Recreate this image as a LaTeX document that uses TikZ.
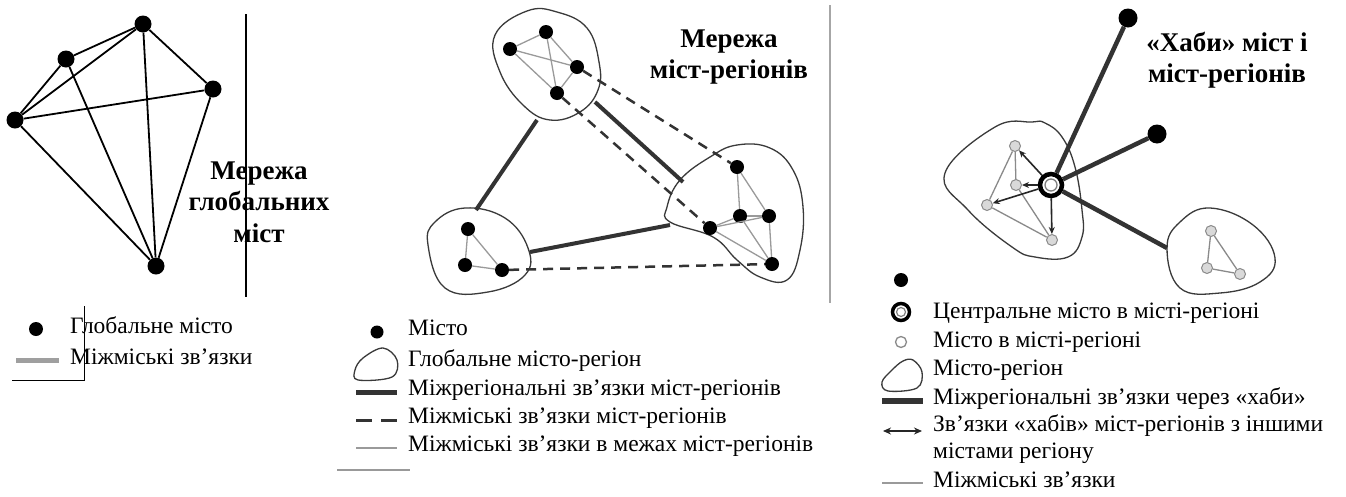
\documentclass[tikz,border=0pt]{standalone}
\usepackage{fontspec}
\setmainfont{Liberation Serif}
\usetikzlibrary{arrows.meta}
\definecolor{cthick}{HTML}{333333}
\definecolor{cthin}{HTML}{9A9A9A}
\definecolor{cblob}{HTML}{3A3A3A}
\definecolor{cgnode}{HTML}{D9D9D9}
\definecolor{cgline}{HTML}{8A8A8A}
\begin{document}
\begin{tikzpicture}[x=1pt,y=-1pt,
 gdot/.style={circle,fill=black,inner sep=0pt,minimum size=17pt},
 mdot/.style={circle,fill=black,inner sep=0pt,minimum size=14pt},
 bigdot/.style={circle,fill=black,inner sep=0pt,minimum size=19pt},
 rnode/.style={circle,draw=cgline,fill=cgnode,line width=1pt,inner sep=0pt,minimum size=11pt},
 glink/.style={line width=1.8pt,black},
 thinlink/.style={line width=1.3pt,cthin},
 thicklink/.style={line width=4pt,cthick},
 dashlink/.style={line width=2.5pt,cthick,dash pattern=on 10pt off 7pt},
 hublink/.style={line width=1.6pt,black!85,-{Stealth[length=7pt,width=6pt]}},
 blobline/.style={line width=1.3pt,cblob},
 divider/.style={line width=1.2pt,black},
 title/.style={font=\fontsize{27}{31.5}\selectfont\bfseries,align=center,inner sep=0pt},
 leg/.style={font=\fontsize{23.5}{28}\selectfont,anchor=west,inner sep=0pt,text height=16pt,text depth=5pt},
 ]
\useasboundingbox (0,0) rectangle (1346,496);
\fill[white] (0,0) rectangle (1346,496);

% ---------- Left panel ----------
\node[gdot] (gA) at (143,24) {};
\node[gdot] (gB) at (66,59) {};
\node[gdot] (gC) at (213,89) {};
\node[gdot] (gD) at (15,120) {};
\node[gdot] (gE) at (156,266) {};
\foreach \a/\b in {gA/gB,gA/gC,gA/gD,gA/gE,gB/gD,gB/gE,gC/gD,gC/gE,gD/gE}
  \draw[glink] (\a) -- (\b);
\node[title] (t1) at (259,202) {Мережа\\глобальних\\міст};
\coordinate (v1t) at (246,14); \coordinate (v1b) at (246,297);
\draw[divider] (v1t) -- (v1b);

% left legend
\node[gdot,minimum size=14pt] (lg1) at (36,329) {};
\coordinate (lg2a) at (16,360); \coordinate (lg2b) at (59,360);
\draw[line width=5pt,gray!75] (lg2a) -- (lg2b);
\node[leg] (lt1) at (70,328) {Глобальне місто};
\node[leg] (lt2) at (70,359) {Міжміські зв’язки};
\coordinate (bx1) at (84,306); \coordinate (bx2) at (84,380); \coordinate (bx3) at (12,380);
\draw[line width=1pt,black] (bx1) -- (bx2) -- (bx3);

% ---------- Middle panel ----------
\draw[blobline] plot[smooth cycle,tension=0.7] coordinates
 {(527,11) (495,35) (500,72) (523,105) (550,120) (580,112) (598,90) (599,62) (587,28) (557,12)};
\draw[blobline] plot[smooth cycle,tension=0.7] coordinates
 {(737,145) (710,157) (680,180) (667,207) (670,222) (713,237) (737,260) (760,277) (787,280) (800,250) (803,207) (793,170) (770,148)};
\draw[blobline] plot[smooth cycle,tension=0.7] coordinates
 {(465,208) (505,218) (528,248) (525,275) (488,292) (445,288) (428,245) (435,222)};

\node[mdot] (mA) at (510,49) {};
\node[mdot] (mB) at (546,32) {};
\node[mdot] (mC) at (577,67) {};
\node[mdot] (mD) at (557,93) {};
\node[mdot] (mE) at (737,167) {};
\node[mdot] (mF) at (740,216) {};
\node[mdot] (mG) at (769,216) {};
\node[mdot] (mH) at (710,228) {};
\node[mdot] (mI) at (772,264) {};
\node[mdot] (mJ) at (468,229) {};
\node[mdot] (mK) at (465,265) {};
\node[mdot] (mL) at (502,270) {};

\foreach \a/\b in {mA/mB,mA/mC,mA/mD,mB/mC,mB/mD,mC/mD,
                   mE/mF,mE/mG,mF/mG,mH/mF,mH/mG,mH/mI,mF/mI,mG/mI,
                   mJ/mK,mJ/mL,mK/mL}
  \draw[thinlink] (\a) -- (\b);

\coordinate (top1) at (537,120); \coordinate (lft1) at (476,210);
\coordinate (top2) at (595,102); \coordinate (rgt1) at (683,182);
\coordinate (lft2) at (530,252); \coordinate (rgt2) at (670,225);
\draw[thicklink] (top1) -- (lft1);
\draw[thicklink] (top2) -- (rgt1);
\draw[thicklink] (lft2) -- (rgt2);

\draw[dashlink] (mC) -- (mE);
\draw[dashlink] (mD) -- (mH);
\draw[dashlink] (mL) -- (mI);

\node[title] (t2) at (729,57) {Мережа\\міст-регіонів};
\coordinate (v2t) at (830,5); \coordinate (v2b) at (830,303);
\draw[divider,gray!70] (v2t) -- (v2b);

% middle legend
\node[mdot,minimum size=13pt] (ml1) at (377,332) {};
\draw[blobline] plot[smooth cycle,tension=0.6] coordinates
 {(383,348) (397,360) (392,377) (358,380) (355,370) (363,358)};
\coordinate (ml3a) at (356,392); \coordinate (ml3b) at (397,392);
\draw[line width=5pt,cthick] (ml3a) -- (ml3b);
\coordinate (ml4a) at (356,420); \coordinate (ml4b) at (372,420);
\coordinate (ml4c) at (381,420); \coordinate (ml4d) at (397,420);
\draw[line width=3pt,cthick] (ml4a) -- (ml4b);
\draw[line width=3pt,cthick] (ml4c) -- (ml4d);
\coordinate (ml5a) at (356,448); \coordinate (ml5b) at (397,448);
\draw[line width=1.5pt,cthin] (ml5a) -- (ml5b);
\node[leg] (mt1) at (408,330) {Місто};
\node[leg] (mt2) at (408,361) {Глобальне місто-регіон};
\node[leg] (mt3) at (408,390) {Міжрегіональні зв’язки міст-регіонів};
\node[leg] (mt4) at (408,418) {Міжміські зв’язки міст-регіонів};
\node[leg] (mt5) at (408,446) {Міжміські зв’язки в межах міст-регіонів};
\coordinate (mb1) at (337,470); \coordinate (mb2) at (410,470);
\draw[line width=1.2pt,gray!80] (mb1) -- (mb2);

% ---------- Right panel ----------
\draw[blobline] plot[smooth cycle,tension=0.7] coordinates
 {(1032,122) (995,127) (945,173) (968,210) (1012,247) (1035,257) (1068,257) (1082,237) (1082,210) (1075,167) (1062,137) (1045,123)};
\draw[blobline] plot[smooth cycle,tension=0.7] coordinates
 {(1210,208) (1253,225) (1275,258) (1260,282) (1220,293) (1180,288) (1167,248) (1180,222)};

\node[bigdot] (rA) at (1128,18) {};
\node[bigdot] (rB) at (1157,134) {};
\node[rnode] (rC) at (1015,146) {};
\node[rnode] (rD) at (1016,185) {};
\node[rnode] (rE) at (987,205) {};
\node[rnode] (rF) at (1052,240) {};
\node[rnode] (rH) at (1211,231) {};
\node[rnode] (rI) at (1207,268) {};
\node[rnode] (rJ) at (1240,274) {};
\foreach \a/\b in {rC/rE,rC/rD,rE/rF,rD/rF,rH/rI,rH/rJ,rI/rJ}
  \draw[thinlink,cgline] (\a) -- (\b);

\node[circle,draw=black,line width=4.5pt,fill=white,inner sep=0pt,minimum size=22pt] (hub) at (1051,185) {};
\node[circle,draw=gray,line width=1.3pt,fill=white,inner sep=0pt,minimum size=12pt] (hubin) at (hub) {};
\coordinate (rG) at (1167,248);
\draw[thicklink,line width=4.5pt] (hub) -- (rA);
\draw[thicklink,line width=4.5pt] (hub) -- (rB);
\draw[thicklink,line width=4.5pt] (hub) -- (rG);
\foreach \b in {rC,rD,rE,rF}
  \draw[hublink] (hub) -- (\b);

\node[title] (t3) at (1227,60) {«Хаби» міст і\\міст-регіонів};

% right legend
\node[mdot] (rl1) at (901,280) {};
\node[circle,draw=black,line width=3.5pt,inner sep=0pt,minimum size=17pt] (rl2) at (901,312) {};
\node[circle,draw=gray,line width=1.2pt,inner sep=0pt,minimum size=9pt] (rl2in) at (rl2) {};
\node[circle,draw=cgline,line width=1.3pt,fill=white,inner sep=0pt,minimum size=11pt] (rl3) at (901,342) {};
\draw[blobline] plot[smooth cycle,tension=0.6] coordinates
 {(913,360) (922,372) (917,388) (888,391) (882,382) (892,370) (903,361)};
\coordinate (rl5a) at (882,401); \coordinate (rl5b) at (923,401);
\draw[line width=6pt,cthick] (rl5a) -- (rl5b);
\coordinate (rl6a) at (883,431); \coordinate (rl6b) at (922,431);
\draw[line width=1.6pt,black!85,{Stealth[length=8pt,width=7pt]}-{Stealth[length=8pt,width=7pt]}] (rl6a) -- (rl6b);
\coordinate (rl7a) at (882,483); \coordinate (rl7b) at (923,483);
\draw[line width=1.5pt,cthin] (rl7a) -- (rl7b);
\node[leg] (rt1) at (933,313) {Центральне місто в місті-регіоні};
\node[leg] (rt2) at (933,342) {Місто в місті-регіоні};
\node[leg] (rt3) at (933,370) {Місто-регіон};
\node[leg] (rt4) at (933,399) {Міжрегіональні зв’язки через «хаби»};
\node[leg] (rt5) at (933,426) {Зв’язки «хабів» міст-регіонів з іншими};
\node[leg] (rt6) at (933,453) {містами регіону};
\node[leg] (rt7) at (933,482) {Міжміські зв’язки};
\end{tikzpicture}
\end{document}
